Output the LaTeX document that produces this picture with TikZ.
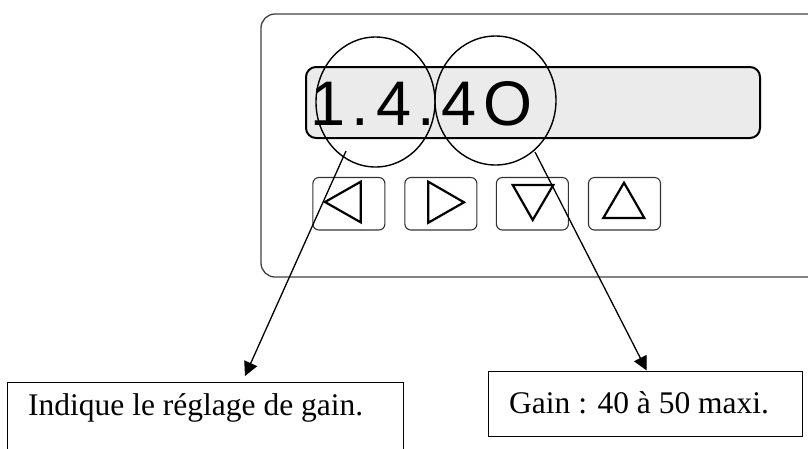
\documentclass[tikz,border=0pt]{standalone}
\usepackage{fontspec}
\setmainfont{Liberation Serif}
\newfontfamily\dispfont[LetterSpace=10.6]{Liberation Sans}
\usetikzlibrary{arrows.meta,shapes.geometric}
\begin{document}
\begin{tikzpicture}[x=1pt,y=-1pt,
  panel/.style={draw=black!75, line width=1.3pt, rounded corners=14pt},
  lcd/.style={draw=black, line width=2pt, fill=black!8, rounded corners=10pt},
  ring/.style={ellipse, draw=black, line width=1.4pt, inner sep=0pt},
  key/.style={rectangle, draw=black!80, line width=1.1pt, rounded corners=6pt, inner sep=0pt, minimum width=72pt, minimum height=52.5pt},
  tri/.style={draw=black, line width=2.2pt, line join=miter},
  callout/.style={rectangle, draw=black, line width=1.4pt, inner sep=0pt},
  lead/.style={draw=black, line width=1.3pt, -{Triangle[length=14pt,width=14pt]}},
  lbl/.style={font=\fontsize{31.5}{36}\selectfont, anchor=base west, inner sep=0pt}
]
\useasboundingbox (0,0) rectangle (808,448);
% front panel and display
\draw[panel] (261,14) rectangle (840,277);
\draw[lcd] (306,67) rectangle (760,138);
\node[anchor=base west, inner sep=0pt, font=\dispfont\fontsize{63}{70}\selectfont] (disp) at (310,125) {1.4.4O};
% highlight ellipses
\node[ring, minimum width=119pt, minimum height=130pt] (e1) at (375.5,102) {};
\node[ring, minimum width=121pt, minimum height=129pt] (e2) at (495.5,100.5) {};
% keys
\node[key] (k1) at (348.9,203.75) {};
\node[key] (k2) at (440.9,203.75) {};
\node[key] (k3) at (532.4,203.75) {};
\node[key] (k4) at (624.5,203.75) {};
\draw[tri] (325,202) -- (360.7,181.7) -- (360.7,222.3) -- cycle;
\draw[tri] (428.3,181.7) -- (464,202.3) -- (428.3,222.7) -- cycle;
\draw[tri] (512.7,185) -- (553.3,185) -- (532.7,220) -- cycle;
\draw[tri] (603.3,218) -- (644.3,218) -- (624,182.7) -- cycle;
% callout boxes
\node[callout, anchor=north west, minimum width=396pt, minimum height=80pt] (b1) at (7,382) {};
\node[lbl] (t1) at (28,415) {Indique le réglage de gain.};
\node[callout, anchor=north west, minimum width=314pt, minimum height=65pt] (b2) at (488,371) {};
\node[lbl] (t2) at (509,413) {Gain : 40 à 50 maxi.};
% leaders
\coordinate (s1) at (346,151);
\coordinate (h1) at (245,376);
\coordinate (s2) at (535,152);
\coordinate (h2) at (646.7,370.5);
\draw[lead] (s1) -- (h1);
\draw[lead] (s2) -- (h2);
\end{tikzpicture}
\end{document}
